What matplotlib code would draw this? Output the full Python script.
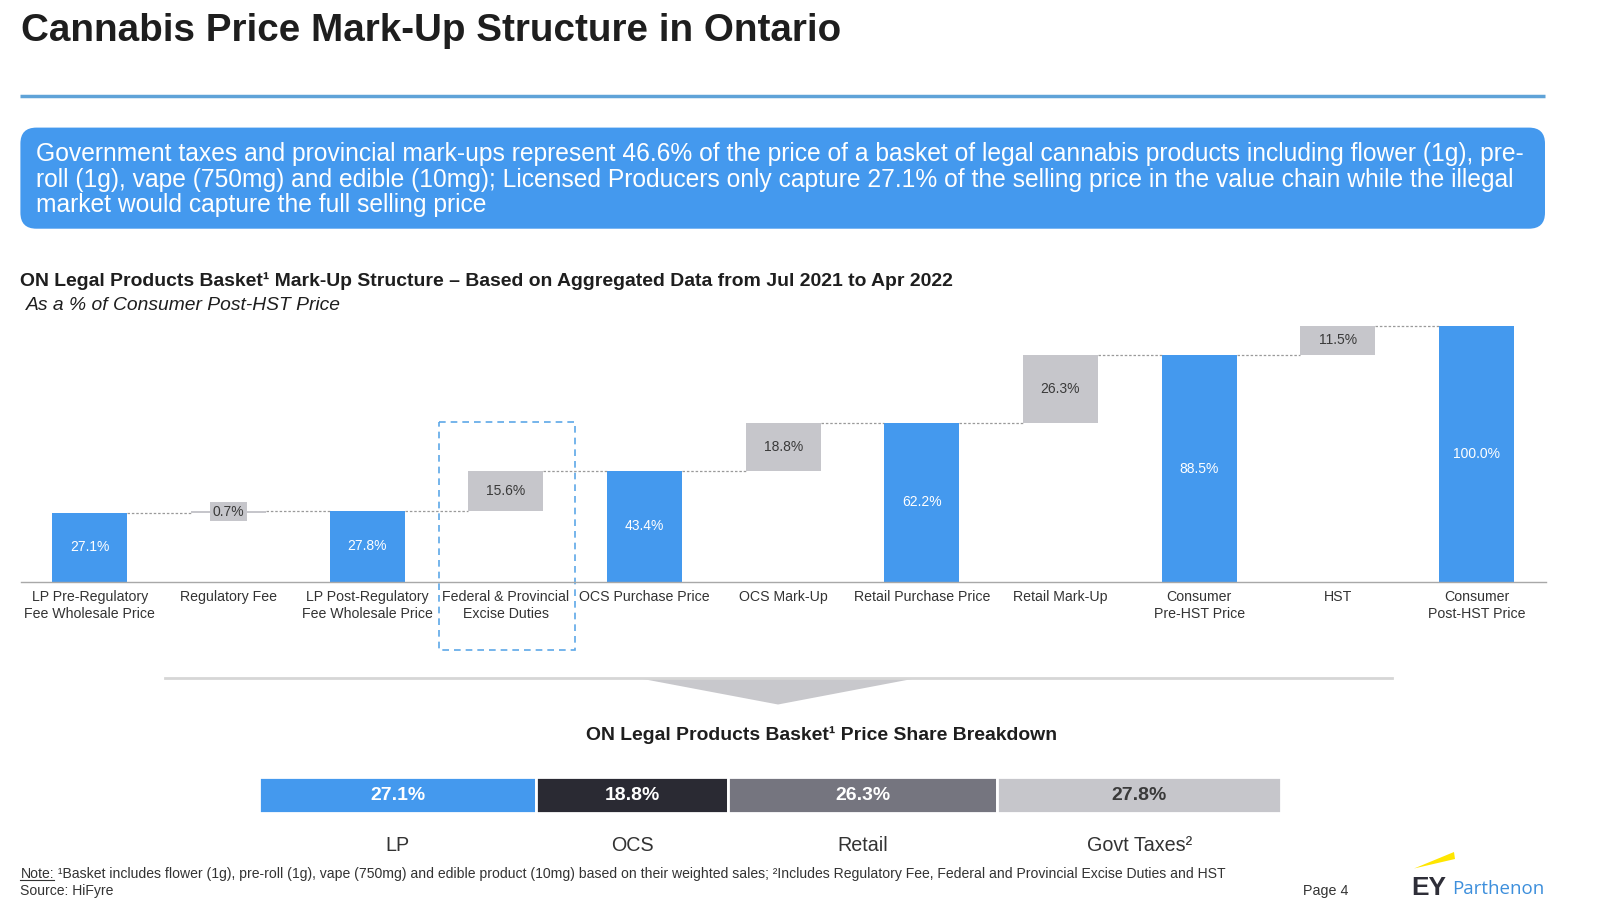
import matplotlib
matplotlib.use('Agg')
import matplotlib.pyplot as plt
from matplotlib.patches import FancyBboxPatch, Rectangle, Polygon
import numpy as np

plt.rcParams['font.family'] = ['Liberation Sans', 'DejaVu Sans']

# ---------------- data ----------------
categories = ["LP Pre-Regulatory\nFee Wholesale Price", "Regulatory Fee",
              "LP Post-Regulatory\nFee Wholesale Price", "Federal & Provincial\nExcise Duties",
              "OCS Purchase Price", "OCS Mark-Up", "Retail Purchase Price", "Retail Mark-Up",
              "Consumer\nPre-HST Price", "HST", "Consumer\nPost-HST Price"]
values = [27.1, 0.7, 27.8, 15.6, 43.4, 18.8, 62.2, 26.3, 88.5, 11.5, 100.0]
kinds = ["total", "delta", "total", "delta", "total", "delta", "total", "delta",
         "total", "delta", "total"]

share_labels = ["LP", "OCS", "Retail", "Govt Taxes\u00b2"]
share_values = [27.1, 18.8, 26.3, 27.8]

title = "Cannabis Price Mark-Up Structure in Ontario"
callout_lines = [
    "Government taxes and provincial mark-ups represent 46.6% of the price of a basket of legal cannabis products including flower (1g), pre-",
    "roll (1g), vape (750mg) and edible (10mg); Licensed Producers only capture 27.1% of the selling price in the value chain while the illegal",
    "market would capture the full selling price",
]
chart_title = "ON Legal Products Basket\u00b9 Mark-Up Structure \u2013 Based on Aggregated Data from Jul 2021 to Apr 2022"
chart_subtitle = "As a % of Consumer Post-HST Price"
share_title = "ON Legal Products Basket\u00b9 Price Share Breakdown"
note_rest = " \u00b9Basket includes flower (1g), pre-roll (1g), vape (750mg) and edible product (10mg) based on their weighted sales; \u00b2Includes Regulatory Fee, Federal and Provincial Excise Duties and HST"
source_text = "Source: HiFyre"
page_text = "Page 4"

# ---------------- style ----------------
BLUE = "#4499EE"
GREY_BOX = "#C6C6CB"
DARK = "#1E1E1E"
TXT = "#333333"
share_colors = [BLUE, "#2A2A33", "#75757F", "#C6C6CB"]
share_text_colors = ["white", "white", "white", "#3A3A3A"]

W, H = 1600, 906
fig = plt.figure(figsize=(16, 9.06), dpi=100)
fig.patch.set_facecolor("white")
bg = fig.add_axes([0, 0, 1, 1])
bg.set_xlim(0, W)
bg.set_ylim(H, 0)
bg.axis("off")
renderer = fig.canvas.get_renderer()


def fit_size(s, target, weight="normal", style="normal", family=None, base=20.0):
    kw = dict(fontsize=base, fontweight=weight, fontstyle=style)
    if family:
        kw["family"] = family
    t = fig.text(0, 0, s, **kw)
    w = t.get_window_extent(renderer).width
    t.remove()
    return base * target / w


# title
fs = fit_size(title, 820, weight="bold")
bg.text(21.4, 40.8, title, fontsize=fs, fontweight="bold", color=DARK, va="baseline", ha="left")
bg.plot([20.4, 1545], [96, 96], color="#5FA3D8", lw=2.5, solid_capstyle="butt")

# callout
box = FancyBboxPatch((20.4, 127.6), 1545 - 20.4, 228.7 - 127.6,
                     boxstyle="round,pad=0,rounding_size=16", fc=BLUE, ec="none")
bg.add_patch(box)
fs = fit_size(callout_lines[0], 1489)
for i, line in enumerate(callout_lines):
    bg.text(35.7, 161.3 + 25.5 * i, line, fontsize=fs, color="white", va="baseline", ha="left")

# chart headings
fs = fit_size(chart_title, 935, weight="bold")
bg.text(20.4, 286, chart_title, fontsize=fs, fontweight="bold", color=DARK, va="baseline")
fs = fit_size(chart_subtitle, 315, style="italic")
bg.text(25.5, 309.5, chart_subtitle, fontsize=fs, fontstyle="italic", color=DARK, va="baseline")

# ---------------- waterfall ----------------
ax = fig.add_axes([20.6 / W, (H - 582) / H, (1545.7 - 20.6) / W, (582 - 325.7) / H])
ax.set_xlim(-0.5, 10.5)
ax.set_ylim(0, 100)
bw = 0.54
x = np.arange(len(values))
bottoms, levels, colors = [], [], []
level = 0.0
for v, k in zip(values, kinds):
    if k == "total":
        bottoms.append(0.0)
        level = v
        colors.append(BLUE)
    else:
        bottoms.append(level)
        level = level + v
        colors.append(GREY_BOX)
    levels.append(level)
ax.bar(x, values, bottom=bottoms, width=bw, color=colors, edgecolor="none", zorder=2)

lab_fs = fit_size("100.0%", 47)
for xi, v, b, k in zip(x, values, bottoms, kinds):
    if k == "total":
        ax.text(xi, b + v / 2, f"{v:.1f}%", ha="center", va="center", color="white",
                fontsize=lab_fs, zorder=3)
    else:
        kw = {}
        if v < 3:
            kw["bbox"] = dict(boxstyle="square,pad=0.18", fc=GREY_BOX, ec="none")
        ax.text(xi, b + v / 2, f"{v:.1f}%", ha="center", va="center", color="#3A3A3A",
                fontsize=lab_fs, zorder=3, **kw)

for i in range(len(values) - 1):
    ax.plot([x[i] + bw / 2, x[i + 1] - bw / 2], [levels[i], levels[i]],
            color="#9A9A9A", lw=0.9, ls=(0, (2, 1.5)), zorder=1, clip_on=False)

for s in ["top", "right", "left"]:
    ax.spines[s].set_visible(False)
ax.spines["bottom"].set_color("#A8A8A8")
ax.spines["bottom"].set_linewidth(1.0)
ax.set_yticks([])
tick_fs = fit_size("Retail Purchase Price", 135)
ax.set_xticks(x)
ax.set_xticklabels(categories, fontsize=tick_fs, color=TXT, linespacing=1.3)
ax.tick_params(axis="x", length=0, pad=5.5)
ax.patch.set_alpha(0)

# highlight box around excise duties
bg.add_patch(Rectangle((439, 421.7), 575 - 439, 650 - 421.7, fill=False,
                       ec="#5DA8E8", lw=1.2, ls=(0, (4, 3))))

# separator and arrow
bg.plot([165, 1392], [678, 678], color="#D6D6D6", lw=2)
bg.add_patch(Polygon([(643, 679), (912, 679), (778, 704.5)], closed=True,
                     fc="#C8C8CC", ec="none"))

fs = fit_size(share_title, 473, weight="bold")
bg.text(822, 740, share_title, fontsize=fs, fontweight="bold", color=DARK,
        ha="center", va="baseline")

# ---------------- share breakdown ----------------
ax2 = fig.add_axes([259.4 / W, (H - 813) / H, 1022 / W, 36 / H])
ax2.set_xlim(0, 100)
ax2.set_ylim(0, 1)
ax2.axis("off")
lefts = np.concatenate([[0], np.cumsum(share_values)[:-1]])
ax2.barh(0.5, share_values, left=lefts, height=1.0, color=share_colors,
         edgecolor="white", linewidth=2)
seg_fs = fit_size("27.1%", 55, weight="bold")
cat_fs = fit_size("Govt Taxes\u00b2", 105)
for l, v, lab, tc in zip(lefts, share_values, share_labels, share_text_colors):
    c = l + v / 2
    ax2.text(c, 0.5, f"{v:.1f}%", ha="center", va="center", color=tc,
             fontsize=seg_fs, fontweight="bold")
    ax2.annotate(lab, xy=(c, 0), xycoords=("data", "axes fraction"),
                 xytext=(0, -38 * 0.72), textcoords="offset points",
                 ha="center", va="baseline", fontsize=cat_fs, color=TXT)

# ---------------- footer ----------------
note_fs = fit_size("Note:" + note_rest, 1200)
t_note = bg.text(20.4, 878, "Note:", fontsize=note_fs, color=TXT, va="baseline")
fig.canvas.draw()
bb = t_note.get_window_extent(renderer)
nw = bb.width
bg.plot([20.4, 20.4 + nw], [880, 880], color=TXT, lw=0.8)
bg.text(20.4 + nw, 878, note_rest, fontsize=note_fs, color=TXT, va="baseline")
bg.text(20.4, 895.5, source_text, fontsize=note_fs, color=TXT, va="baseline")
bg.text(1303, 895.5, page_text, fontsize=note_fs * 1.02, color=TXT, va="baseline")

# EY logo
ey_fs = fit_size("EY", 35, weight="bold")
bg.text(1411, 895, "EY", fontsize=ey_fs, fontweight="bold", color="#2E2E38", va="baseline")
p_fs = fit_size("Parthenon", 92, family=["Open Sans", "DejaVu Sans"])
bg.text(1452, 894, "Parthenon", fontsize=p_fs, color="#3D8FDC", va="baseline",
        family=["Open Sans", "DejaVu Sans"])
bg.add_patch(Polygon([(1414, 868.5), (1454, 852), (1455, 859)], closed=True,
                     fc="#FFE600", ec="none"))

fig.savefig("out.png", dpi=100, facecolor="white")
